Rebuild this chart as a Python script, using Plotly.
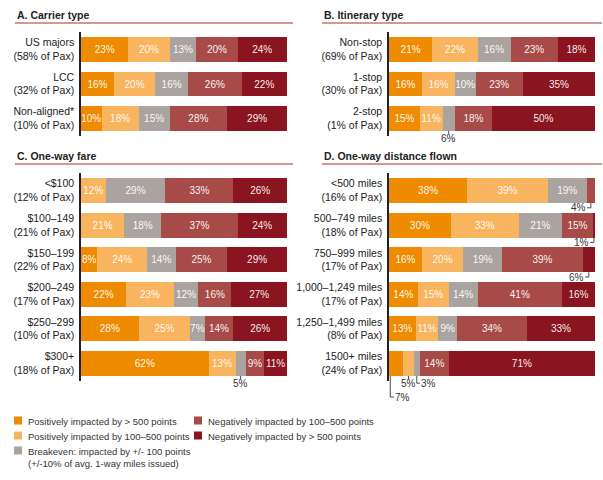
import plotly.graph_objects as go

# ---------------- data ----------------
segment_names = [
    "Positively impacted by > 500 points",
    "Positively impacted by 100–500 points",
    "Breakeven: impacted by +/- 100 points<br>(+/-10% of avg. 1-way miles issued)",
    "Negatively impacted by 100–500 points",
    "Negatively impacted by > 500 points",
]

carrier_title = "A. Carrier type"
carrier_labels = ["US majors<br>(58% of Pax)", "LCC<br>(32% of Pax)", "Non-aligned*<br>(10% of Pax)"]
carrier_values = [[23, 20, 13, 20, 24], [16, 20, 16, 26, 22], [10, 18, 15, 28, 29]]
carrier_callouts = []

itinerary_title = "B. Itinerary type"
itinerary_labels = ["Non-stop<br>(69% of Pax)", "1-stop<br>(30% of Pax)", "2-stop<br>(1% of Pax)"]
itinerary_values = [[21, 22, 16, 23, 18], [16, 16, 10, 23, 35], [15, 11, 6, 18, 50]]
itinerary_callouts = [(2, 2, "below")]

fare_title = "C. One-way fare"
fare_labels = ["<$100<br>(12% of Pax)", "$100–149<br>(21% of Pax)", "$150–199<br>(22% of Pax)",
               "$200–249<br>(17% of Pax)", "$250–299<br>(10% of Pax)", "$300+<br>(18% of Pax)"]
fare_values = [[0, 12, 29, 33, 26], [0, 21, 18, 37, 24], [8, 24, 14, 25, 29],
               [22, 23, 12, 16, 27], [28, 25, 7, 14, 26], [62, 13, 5, 9, 11]]
fare_callouts = [(5, 2, "below")]

distance_title = "D. One-way distance flown"
distance_labels = ["<500 miles<br>(16% of Pax)", "500–749 miles<br>(18% of Pax)", "750–999 miles<br>(17% of Pax)",
                   "1,000–1,249 miles<br>(17% of Pax)", "1,250–1,499 miles<br>(8% of Pax)", "1500+ miles<br>(24% of Pax)"]
distance_values = [[38, 39, 19, 4, 0], [30, 33, 21, 15, 1], [16, 20, 19, 39, 6],
                   [14, 15, 14, 41, 16], [13, 11, 9, 34, 33], [7, 5, 3, 14, 71]]
distance_callouts = [(0, 3, "right"), (1, 4, "right"), (2, 4, "right"),
                     (5, 0, "left_low"), (5, 1, "below"), (5, 2, "right_low")]

# ---------------- styles ----------------
colors = ["#EE8B00", "#F8B45E", "#ABA39F", "#A84B48", "#8A1520"]
FONT = "Liberation Sans, Arial, Helvetica, sans-serif"
W, H = 603, 480


def px(x):
    return x / W


def py(y):
    return 1 - y / H


panels = [
    dict(title=carrier_title, labels=carrier_labels, values=carrier_values, callouts=carrier_callouts,
         ax="", xd=(81, 287), yd=(32.25, 135.75), tx=15, ty=15, line=(15, 293, 23)),
    dict(title=itinerary_title, labels=itinerary_labels, values=itinerary_values, callouts=itinerary_callouts,
         ax="2", xd=(389, 595), yd=(32.25, 135.75), tx=322, ty=15, line=(322, 602, 23)),
    dict(title=fare_title, labels=fare_labels, values=fare_values, callouts=fare_callouts,
         ax="3", xd=(81, 287), yd=(173.2, 380.8), tx=15, ty=156, line=(15, 293, 164)),
    dict(title=distance_title, labels=distance_labels, values=distance_values, callouts=distance_callouts,
         ax="4", xd=(389, 595), yd=(173.2, 380.8), tx=322, ty=156, line=(322, 602, 164)),
]

fig = go.Figure()
shapes, annotations = [], []
layout_axes = {}
BARW = 0.72

for p in panels:
    a = p["ax"]
    n = len(p["labels"])
    for k in range(5):
        xs = [row[k] for row in p["values"]]
        callout_set = {(r, s) for r, s, _ in p["callouts"]}
        texts = ["" if (v == 0 or (i, k) in callout_set) else f"{v}%" for i, v in enumerate(xs)]
        fig.add_trace(go.Bar(
            x=xs, y=p["labels"], orientation="h", name=segment_names[k],
            marker=dict(color=colors[k], line=dict(width=0)),
            text=texts, textposition="inside", insidetextanchor="middle", textangle=0,
            textfont=dict(color="rgba(255,255,255,0.95)", size=10, family=FONT),
            xaxis="x" + a, yaxis="y" + a, showlegend=False, hoverinfo="skip",
        ))
    layout_axes["xaxis" + a] = dict(domain=[px(p["xd"][0]), px(p["xd"][1])], range=[0, 100],
                                    visible=False, anchor="y" + a, fixedrange=True)
    layout_axes["yaxis" + a] = dict(domain=[py(p["yd"][1]), py(p["yd"][0])], anchor="x" + a,
                                    type="category", categoryorder="array", categoryarray=p["labels"],
                                    range=[n - 0.5, -0.5], showline=True, linecolor="#222", linewidth=1.5,
                                    ticks="", showgrid=False, zeroline=False, ticklabelstandoff=3,
                                    tickfont=dict(size=10.5, color="#222", family=FONT))
    # title + rule
    annotations.append(dict(text="<b>" + p["title"] + "</b>", x=px(p["tx"]), y=py(p["ty"]),
                            xref="paper", yref="paper", xanchor="left", yanchor="middle", showarrow=False,
                            font=dict(size=10.5, color="#222", family=FONT)))
    x0, x1, yl = p["line"]
    shapes.append(dict(type="line", xref="paper", yref="paper", x0=px(x0), x1=px(x1), y0=py(yl), y1=py(yl),
                       line=dict(color="#C27673", width=1.5)))

    # callouts
    def fy(v, n=n):
        return (n - 0.5 - v) / n

    xr, yr = "x" + a, "y" + a + " domain"
    lc = dict(color="#444", width=1)
    for r, s, style in p["callouts"]:
        row = p["values"][r]
        start = sum(row[:s])
        mid = start + row[s] / 2
        bottom = fy(r + BARW / 2)
        lab = f"{row[s]}%"
        if style == "below":
            ly = fy(r + 0.57)
            shapes.append(dict(type="line", xref=xr, yref=yr, x0=mid, x1=mid, y0=bottom, y1=fy(r + 0.45), line=lc))
            annotations.append(dict(text=lab, x=mid, y=ly, xref=xr, yref=yr, xanchor="center", yanchor="middle",
                                    showarrow=False, font=dict(size=10, color="#333", family=FONT)))
        elif style == "right":
            ly = fy(r + 0.5)
            shapes.append(dict(type="line", xref=xr, yref=yr, x0=mid, x1=mid, y0=bottom, y1=ly, line=lc))
            shapes.append(dict(type="line", xref=xr, yref=yr, x0=mid, x1=mid - 1.8, y0=ly, y1=ly, line=lc))
            annotations.append(dict(text=lab, x=mid - 1.8, y=ly, xref=xr, yref=yr, xanchor="right", yanchor="middle",
                                    showarrow=False, font=dict(size=10, color="#333", family=FONT), xshift=1))
        elif style == "right_low":
            ly = fy(r + 0.57)
            shapes.append(dict(type="line", xref=xr, yref=yr, x0=mid, x1=mid, y0=bottom, y1=ly, line=lc))
            shapes.append(dict(type="line", xref=xr, yref=yr, x0=mid, x1=mid + 1.5, y0=ly, y1=ly, line=lc))
            annotations.append(dict(text=lab, x=mid + 1.5, y=ly, xref=xr, yref=yr, xanchor="left", yanchor="middle",
                                    showarrow=False, font=dict(size=10, color="#333", family=FONT), xshift=-1))
        elif style == "left_low":
            lx = start + 0.6
            ly = fy(r + 0.97)
            shapes.append(dict(type="line", xref=xr, yref=yr, x0=lx, x1=lx, y0=bottom, y1=ly, line=lc))
            shapes.append(dict(type="line", xref=xr, yref=yr, x0=lx, x1=lx + 1.8, y0=ly, y1=ly, line=lc))
            annotations.append(dict(text=lab, x=lx + 1.8, y=ly, xref=xr, yref=yr, xanchor="left", yanchor="middle",
                                    showarrow=False, font=dict(size=10, color="#333", family=FONT), xshift=-1))

# ---------------- legend (manual) ----------------
legend_pos = [(14, 420), (14, 435), (14, 450), (194, 420), (194, 435)]
for k, (lx, ly) in enumerate(legend_pos):
    shapes.append(dict(type="rect", xref="paper", yref="paper", x0=px(lx), x1=px(lx + 8),
                       y0=py(ly + 4.5), y1=py(ly - 3.5), fillcolor=colors[k], line=dict(width=0)))
    annotations.append(dict(text=segment_names[k], x=px(lx + 12), y=py(ly - 6.5), xref="paper", yref="paper",
                            xanchor="left", yanchor="top", align="left", showarrow=False,
                            font=dict(size=9.5, color="#333", family=FONT)))

fig.update_layout(
    width=W, height=H, margin=dict(l=0, r=0, t=0, b=0),
    paper_bgcolor="white", plot_bgcolor="white",
    barmode="stack", bargap=1 - BARW, showlegend=False,
    uniformtext=dict(minsize=10, mode="show"),
    font=dict(family=FONT),
    shapes=shapes, annotations=annotations,
    **layout_axes,
)

fig.write_html("out.html")
